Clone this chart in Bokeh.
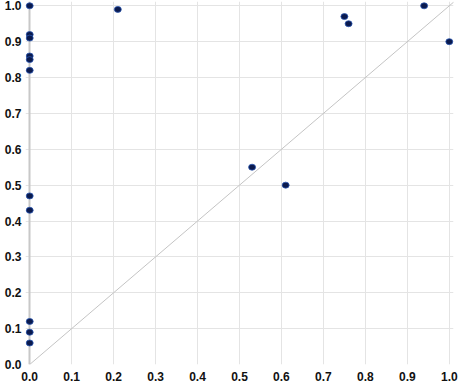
from bokeh.plotting import figure
from bokeh.embed import file_html
from bokeh.resources import INLINE
from bokeh.models import Range1d, FixedTicker, Slope, NumeralTickFormatter, Grid

# data
x_vals = [0.0, 0.0, 0.0, 0.0, 0.0, 0.0, 0.0, 0.0, 0.0, 0.0, 0.0,
          0.21, 0.53, 0.61, 0.75, 0.76, 0.94, 1.0]
y_vals = [1.0, 0.92, 0.91, 0.86, 0.85, 0.82, 0.47, 0.43, 0.12, 0.09, 0.06,
          0.99, 0.55, 0.50, 0.97, 0.95, 1.0, 0.90]
tick_vals = [0.0, 0.1, 0.2, 0.3, 0.4, 0.5, 0.6, 0.7, 0.8, 0.9, 1.0]

p = figure(width=458, height=390, output_backend="svg", toolbar_location=None,
           x_range=Range1d(-0.01, 1.01), y_range=Range1d(0, 1.012),
           min_border_left=25, min_border_right=5, min_border_top=1,
           min_border_bottom=26)
p.outline_line_color = None
p.background_fill_color = "white"

for ax in (p.xaxis, p.yaxis):
    ax.ticker = FixedTicker(ticks=tick_vals)
    ax.formatter = NumeralTickFormatter(format="0.0")
    ax.major_tick_line_color = None
    ax.minor_tick_line_color = None
    ax.major_tick_out = 0
    ax.major_tick_in = 0
    ax.minor_tick_out = 0
    ax.minor_tick_in = 0
    ax.axis_line_color = None
    ax.major_label_text_font = "Liberation Sans"
    ax.major_label_text_font_style = "bold"
    ax.major_label_text_font_size = "12px"
    ax.major_label_text_color = "#111111"
p.xaxis.major_label_standoff = 7
p.yaxis.major_label_standoff = 4

for g in (p.xgrid, p.ygrid):
    g.ticker = FixedTicker(ticks=tick_vals)
    g.grid_line_color = "#e4e4e4"
    g.grid_line_width = 1
    g.bounds = (0, 1)

# axis lines at x=0 and y=0
p.add_layout(Grid(dimension=0, ticker=FixedTicker(ticks=[0.0]), bounds=(0, 1),
                  grid_line_color="#c8c8c8", grid_line_width=2))
p.add_layout(Grid(dimension=1, ticker=FixedTicker(ticks=[0.0]), bounds=(0, 1),
                  grid_line_color="#c8c8c8", grid_line_width=2))

p.add_layout(Slope(gradient=1, y_intercept=0, line_color="#c4c4c4", line_width=1))

p.ellipse(x=x_vals, y=y_vals, width=7, height=6,
          width_units="screen", height_units="screen",
          fill_color="#0a1a4e", line_color="#2a55b0", line_width=0.8)

open("out.html", "w").write(file_html(p, INLINE))
